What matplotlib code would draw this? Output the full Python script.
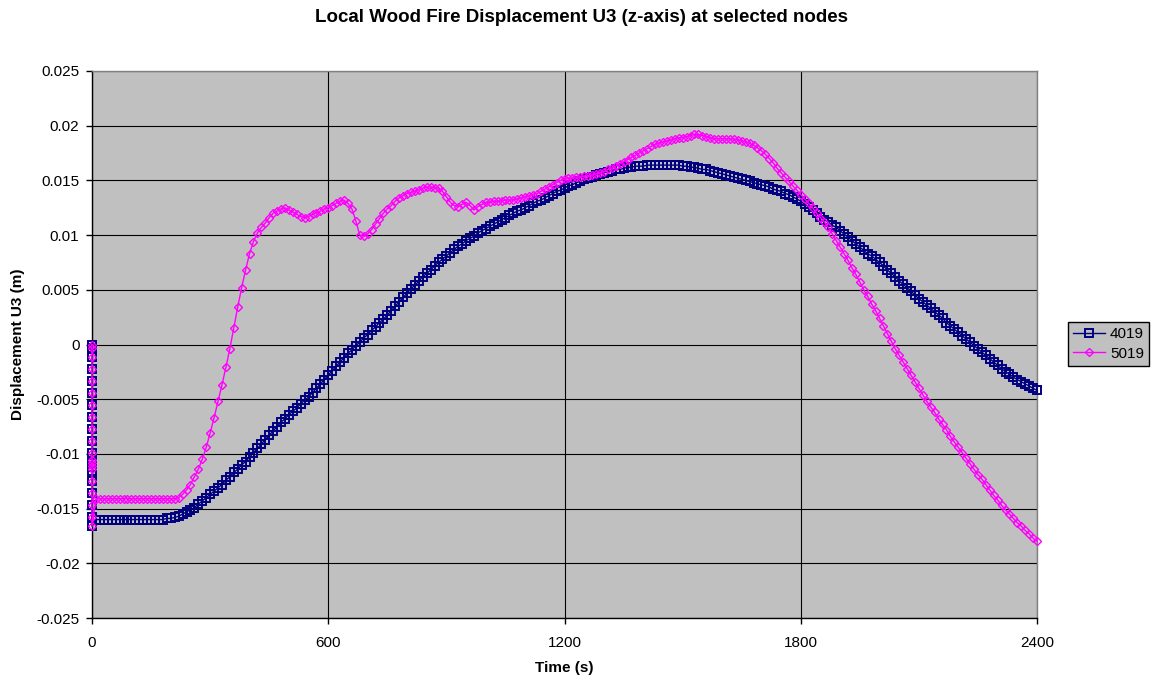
import matplotlib
matplotlib.use("Agg")
import matplotlib.pyplot as plt

# ── Data ───────────────────────────────────────────────────────────────────────
# Gravity step: many increments recorded at t = 0, then fire analysis every 10 s
STEP0_4019 = [0.0, -0.0003, -0.0011, -0.0022, -0.0033, -0.0044, -0.0055, -0.0066,
              -0.0077, -0.0088, -0.0099, -0.0108, -0.0112, -0.0116, -0.0125,
              -0.0136, -0.0147, -0.0158, -0.0166]
STEP0_5019 = [0.0, -0.0003, -0.0011, -0.0022, -0.0033, -0.0044, -0.0055, -0.0066,
              -0.0077, -0.0088, -0.0099, -0.0106, -0.0108, -0.0111, -0.0114,
              -0.0125, -0.0136, -0.0147, -0.0158, -0.0166]

FIRE_TIME = list(range(10, 2401, 10))

U3_4019 = [
    -0.0160, -0.0160, -0.0160, -0.0160, -0.0160, -0.0160, -0.0160, -0.0160, -0.0160, -0.0160,
    -0.0160, -0.0160, -0.0160, -0.0160, -0.0160, -0.0160, -0.0160, -0.0160, -0.0159, -0.0159,
    -0.0158, -0.0157, -0.0155, -0.0153, -0.0151, -0.0149, -0.0146, -0.0143, -0.0140, -0.0137,
    -0.0134, -0.0131, -0.0128, -0.0124, -0.0121, -0.0117, -0.0114, -0.0110, -0.0107, -0.0103,
    -0.0099, -0.0095, -0.0091, -0.0087, -0.0083, -0.0079, -0.0075, -0.0071, -0.0068, -0.0064,
    -0.0061, -0.0058, -0.0054, -0.0051, -0.0048, -0.0044, -0.0040, -0.0036, -0.0032, -0.0028,
    -0.0024, -0.0020, -0.0016, -0.0012, -0.0008, -0.0005, -0.0001, 0.0002, 0.0006, 0.0009,
    0.0013, 0.0016, 0.0020, 0.0023, 0.0027, 0.0031, 0.0035, 0.0039, 0.0043, 0.0047,
    0.0051, 0.0054, 0.0058, 0.0062, 0.0065, 0.0068, 0.0072, 0.0075, 0.0078, 0.0081,
    0.0084, 0.0087, 0.0090, 0.0092, 0.0095, 0.0097, 0.0099, 0.0102, 0.0104, 0.0106,
    0.0108, 0.0110, 0.0112, 0.0114, 0.0116, 0.0118, 0.0120, 0.0122, 0.0123, 0.0125,
    0.0127, 0.0129, 0.0131, 0.0132, 0.0134, 0.0136, 0.0138, 0.0140, 0.0141, 0.0143,
    0.0145, 0.0146, 0.0148, 0.0149, 0.0151, 0.0152, 0.0153, 0.0155, 0.0156, 0.0157,
    0.0158, 0.0159, 0.0160, 0.0160, 0.0161, 0.0162, 0.0162, 0.0163, 0.0163, 0.0163,
    0.0164, 0.0164, 0.0164, 0.0164, 0.0164, 0.0164, 0.0164, 0.0164, 0.0164, 0.0163,
    0.0163, 0.0162, 0.0162, 0.0161, 0.0160, 0.0160, 0.0159, 0.0158, 0.0157, 0.0156,
    0.0155, 0.0154, 0.0153, 0.0152, 0.0151, 0.0150, 0.0149, 0.0148, 0.0147, 0.0146,
    0.0145, 0.0144, 0.0142, 0.0141, 0.0140, 0.0138, 0.0137, 0.0135, 0.0133, 0.0131,
    0.0128, 0.0126, 0.0123, 0.0120, 0.0117, 0.0114, 0.0112, 0.0109, 0.0107, 0.0104,
    0.0101, 0.0098, 0.0095, 0.0092, 0.0089, 0.0086, 0.0083, 0.0081, 0.0078, 0.0075,
    0.0072, 0.0068, 0.0065, 0.0062, 0.0058, 0.0055, 0.0052, 0.0049, 0.0045, 0.0042,
    0.0039, 0.0036, 0.0033, 0.0030, 0.0027, 0.0024, 0.0020, 0.0017, 0.0014, 0.0011,
    0.0008, 0.0005, 0.0002, -0.0001, -0.0004, -0.0007, -0.0010, -0.0013, -0.0016, -0.0019,
    -0.0022, -0.0025, -0.0027, -0.0030, -0.0032, -0.0034, -0.0036, -0.0038, -0.0040, -0.0042,
]

U3_5019 = [
    -0.0141, -0.0141, -0.0141, -0.0141, -0.0141, -0.0141, -0.0141, -0.0141, -0.0141, -0.0141,
    -0.0141, -0.0141, -0.0141, -0.0141, -0.0141, -0.0141, -0.0141, -0.0141, -0.0141, -0.0141,
    -0.0141, -0.0140, -0.0137, -0.0133, -0.0128, -0.0121, -0.0114, -0.0105, -0.0094, -0.0081,
    -0.0067, -0.0052, -0.0037, -0.0021, -0.0004, 0.0015, 0.0034, 0.0052, 0.0068, 0.0083,
    0.0094, 0.0102, 0.0107, 0.0111, 0.0116, 0.0120, 0.0122, 0.0124, 0.0125, 0.0123,
    0.0121, 0.0119, 0.0117, 0.0116, 0.0117, 0.0119, 0.0120, 0.0122, 0.0124, 0.0125,
    0.0127, 0.0129, 0.0131, 0.0132, 0.0129, 0.0124, 0.0113, 0.0100, 0.0099, 0.0101,
    0.0105, 0.0110, 0.0115, 0.0120, 0.0124, 0.0127, 0.0131, 0.0134, 0.0136, 0.0138,
    0.0139, 0.0140, 0.0141, 0.0143, 0.0144, 0.0144, 0.0143, 0.0143, 0.0140, 0.0135,
    0.0130, 0.0127, 0.0126, 0.0128, 0.0130, 0.0127, 0.0123, 0.0126, 0.0128, 0.0130,
    0.0130, 0.0131, 0.0131, 0.0131, 0.0132, 0.0132, 0.0132, 0.0133, 0.0134, 0.0135,
    0.0136, 0.0137, 0.0138, 0.0140, 0.0142, 0.0144, 0.0146, 0.0148, 0.0150, 0.0151,
    0.0152, 0.0152, 0.0153, 0.0153, 0.0154, 0.0154, 0.0155, 0.0156, 0.0157, 0.0158,
    0.0160, 0.0161, 0.0163, 0.0165, 0.0167, 0.0169, 0.0171, 0.0173, 0.0175, 0.0177,
    0.0179, 0.0181, 0.0183, 0.0184, 0.0185, 0.0186, 0.0187, 0.0188, 0.0189, 0.0189,
    0.0190, 0.0191, 0.0192, 0.0192, 0.0191, 0.0190, 0.0189, 0.0188, 0.0188, 0.0188,
    0.0188, 0.0188, 0.0188, 0.0187, 0.0186, 0.0185, 0.0184, 0.0182, 0.0180, 0.0177,
    0.0174, 0.0170, 0.0166, 0.0161, 0.0157, 0.0153, 0.0149, 0.0145, 0.0141, 0.0137,
    0.0133, 0.0129, 0.0125, 0.0120, 0.0116, 0.0112, 0.0107, 0.0101, 0.0095, 0.0089,
    0.0083, 0.0077, 0.0070, 0.0064, 0.0057, 0.0050, 0.0044, 0.0037, 0.0031, 0.0024,
    0.0017, 0.0010, 0.0003, -0.0004, -0.0010, -0.0016, -0.0022, -0.0028, -0.0034, -0.0040,
    -0.0046, -0.0052, -0.0057, -0.0062, -0.0068, -0.0073, -0.0078, -0.0084, -0.0089, -0.0094,
    -0.0099, -0.0104, -0.0109, -0.0114, -0.0119, -0.0123, -0.0128, -0.0133, -0.0138, -0.0142,
    -0.0147, -0.0151, -0.0155, -0.0159, -0.0163, -0.0166, -0.0170, -0.0173, -0.0177, -0.0180,
]

X_TICKS = [0, 600, 1200, 1800, 2400]
Y_TICKS = [0.025, 0.02, 0.015, 0.01, 0.005, 0, -0.005, -0.01, -0.015, -0.02, -0.025]
Y_TICK_LABELS = ["0.025", "0.02", "0.015", "0.01", "0.005", "0",
                 "-0.005", "-0.01", "-0.015", "-0.02", "-0.025"]

NAVY = "#000080"
MAGENTA = "#FF00FF"
PLOT_BG = "#C0C0C0"

plt.rcParams["font.family"] = ["Liberation Sans", "DejaVu Sans"]

t_4019 = [0.0] * len(STEP0_4019) + FIRE_TIME
v_4019 = STEP0_4019 + U3_4019
t_5019 = [0.0] * len(STEP0_5019) + FIRE_TIME
v_5019 = STEP0_5019 + U3_5019

# ── Figure ─────────────────────────────────────────────────────────────────────
fig = plt.figure(figsize=(11.6, 6.82), dpi=100)
ax = fig.add_axes([92 / 1160, 1 - 618 / 682, 945 / 1160, 547 / 682])
ax.set_facecolor(PLOT_BG)

ax.plot(t_4019, v_4019, color=NAVY, lw=1.0, marker="s", ms=5.5, mfc="none",
        mec=NAVY, mew=1.4, label="4019", clip_on=False, zorder=3)
ax.plot(t_5019, v_5019, color=MAGENTA, lw=1.0, marker="D", ms=4.4, mfc="none",
        mec=MAGENTA, mew=1.0, label="5019", clip_on=False, zorder=4)

ax.set_xlim(0, 2400)
ax.set_ylim(-0.025, 0.025)
ax.set_xticks(X_TICKS)
ax.set_xticklabels([str(x) for x in X_TICKS])
ax.set_yticks(Y_TICKS)
ax.set_yticklabels(Y_TICK_LABELS)
ax.tick_params(axis="both", direction="out", length=4, width=1, colors="black",
               labelsize=11)
ax.tick_params(axis="y", pad=5)
ax.tick_params(axis="x", pad=9)

ax.grid(True, color="black", lw=0.8, zorder=1)
ax.set_axisbelow(True)

for side in ("left", "bottom"):
    ax.spines[side].set_color("black")
    ax.spines[side].set_linewidth(1.0)
for side in ("top", "right"):
    ax.spines[side].set_color("#808080")
    ax.spines[side].set_linewidth(1.0)

ax.set_xlabel("Time (s)", fontsize=11, fontweight="bold")
ax.set_ylabel("Displacement U3 (m)", fontsize=11, fontweight="bold")
ax.xaxis.set_label_coords(0.5, -0.078)
ax.yaxis.set_label_coords(-0.071, 0.5)

fig.suptitle("Local Wood Fire Displacement U3 (z-axis) at selected nodes",
             x=582 / 1160, y=1 - 18 / 682, va="center", fontsize=13.5,
             fontweight="bold")

leg = fig.legend(loc="upper left", bbox_to_anchor=(1068 / 1160, 1 - 322 / 682),
                 fontsize=11, frameon=True, fancybox=False, framealpha=1,
                 edgecolor="black", facecolor=PLOT_BG, handlelength=2.1,
                 handletextpad=0.3, borderpad=0.35, labelspacing=0.35,
                 borderaxespad=0)
leg.get_frame().set_linewidth(1.0)

fig.savefig("out.png", dpi=100)
